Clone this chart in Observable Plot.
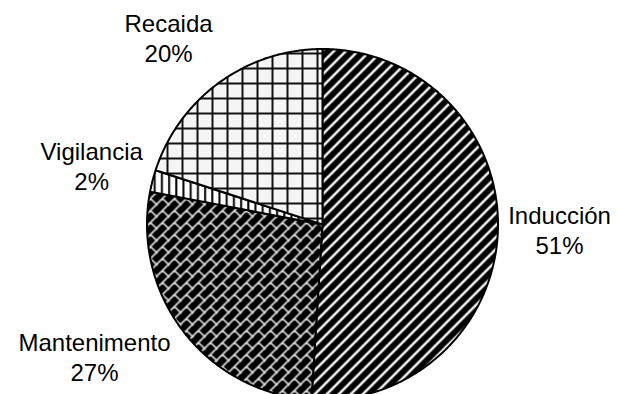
<!DOCTYPE html>
<html><head><meta charset="utf-8">
<script src="https://cdn.jsdelivr.net/npm/d3@7"></script>
<script src="https://cdn.jsdelivr.net/npm/@observablehq/plot@0.6"></script>
<style>html,body{margin:0;padding:0;background:#fff;overflow:hidden;}</style>
</head><body><div id="chart"></div>
<script>
// Data
const categories = ["Inducción", "Mantenimento", "Vigilancia", "Recaida"];
const values = [51, 27, 2, 20];

// Styling / layout (not data)
const patternIds = ["p-ind", "p-man", "p-vig", "p-rec"];
const labelRadius = [1.351, 1.50, 1.358, 1.382];
const labelShiftDeg = [-0.5, 7.8, 0, -3.4];

const arcs = d3.pie().sort(null).value(d => d)(values);
const slicePts = [];
arcs.forEach((a, i) => {
  const cat = categories[i], fill = `url(#${patternIds[i]})`;
  const n = Math.max(2, Math.ceil((a.endAngle - a.startAngle) / (Math.PI / 360)));
  slicePts.push({cat, fill, x: 0, y: 0});
  for (let k = 0; k <= n; k++) {
    const t = a.startAngle + (a.endAngle - a.startAngle) * k / n;
    slicePts.push({cat, fill, x: Math.sin(t), y: Math.cos(t)});
  }
});
const labels = arcs.map((a, i) => {
  const m = (a.startAngle + a.endAngle) / 2 + labelShiftDeg[i] * Math.PI / 180;
  return {x: labelRadius[i] * Math.sin(m), y: labelRadius[i] * Math.cos(m),
          text: `${categories[i]}\n${values[i]}%`};
});

const svg = Plot.plot({
  width: 618, height: 394,
  x: {domain: [-1, 1], range: [146.5, 497.5], axis: null},
  y: {domain: [-1, 1], range: [399.5, 48.5], axis: null},
  color: {type: "identity"},
  style: {fontFamily: "Arial, 'Liberation Sans', sans-serif", background: "#fff"},
  marks: [
    Plot.line(slicePts, {x: "x", y: "y", z: "cat", fill: "fill", stroke: "#000",
      strokeWidth: 2, curve: "linear-closed", strokeLinejoin: "miter"}),
    Plot.text(labels, {x: "x", y: "y", text: "text", fontSize: 24, lineHeight: 1.25,
      fill: "#000", textAnchor: "middle", lineAnchor: "middle"})
  ]
});

const defs = d3.select(svg).insert("defs", ":first-child");
// Inducción: wide upward diagonal stripes
{
  const s = 12;
  const p = defs.append("pattern").attr("id", "p-ind").attr("patternUnits", "userSpaceOnUse")
    .attr("width", s).attr("height", s);
  p.append("rect").attr("width", s).attr("height", s).attr("fill", "#000");
  p.append("path").attr("d", `M0,${s} L${s},0 M-3,3 L3,-3 M${s-3},${s+3} L${s+3},${s-3}`)
    .attr("stroke", "#fff").attr("stroke-width", 2.4);
}
// Mantenimento: diagonal brick (white on black)
{
  const s = 12;
  const p = defs.append("pattern").attr("id", "p-man").attr("patternUnits", "userSpaceOnUse")
    .attr("width", s).attr("height", s);
  p.append("rect").attr("width", s).attr("height", s).attr("fill", "#000");
  p.append("path").attr("d", `M0,${s} L${s},0 M-3,3 L3,-3 M${s-3},${s+3} L${s+3},${s-3} M${s/2},${s/2} L${s+1},${s+1} M-1,-1 L1,1`)
    .attr("stroke", "#e0e0e0").attr("stroke-width", 1.6).attr("fill", "none");
}
// Vigilancia: vertical lines
{
  const s = 7.2;
  const p = defs.append("pattern").attr("id", "p-vig").attr("patternUnits", "userSpaceOnUse")
    .attr("width", s).attr("height", s);
  p.append("rect").attr("width", s).attr("height", s).attr("fill", "#fff");
  p.append("rect").attr("x", 2).attr("width", 2).attr("height", s).attr("fill", "#000");
}
// Recaida: large grid
{
  const s = 15;
  const p = defs.append("pattern").attr("id", "p-rec").attr("patternUnits", "userSpaceOnUse")
    .attr("x", 1).attr("y", 7).attr("width", s).attr("height", s);
  p.append("rect").attr("width", s).attr("height", s).attr("fill", "#f5f5f5");
  p.append("rect").attr("width", 2).attr("height", s).attr("fill", "#111");
  p.append("rect").attr("width", s).attr("height", 2).attr("fill", "#111");
}

document.getElementById("chart").appendChild(svg);
</script>
</body></html>
